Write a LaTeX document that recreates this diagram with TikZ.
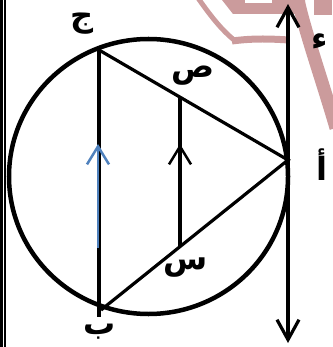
\documentclass[tikz,border=0pt]{standalone}
\usepackage{fontspec}
\newfontfamily\arabicfont[Script=Arabic]{DejaVu Sans}
\TeXXeTstate=1
\usetikzlibrary{arrows.meta}
\definecolor{wmpink}{RGB}{203,155,156}
\definecolor{chordblue}{RGB}{79,129,189}

\begin{document}
\begin{tikzpicture}[
        x=1pt, y=-1pt,
        rim/.style={line width=4.5pt},
        chord/.style={line width=3.2pt},
        lbl/.style={font=\arabicfont\bfseries\fontsize{32}{32}\selectfont, inner sep=0pt},
        barb/.style={-{Straight Barb[length=18pt, width=22pt]}, line width=2.5pt},
        wm/.style={draw=none, fill=wmpink}
    ]
    \useasboundingbox (0,0) rectangle (332,347);

    % watermark
    \fill[wm] (222,0) -- (233,14) -- (305,14) -- (305,0) -- cycle;
    \fill[wm] (314,0) rectangle (332,15);
    \draw[wmpink, line width=13pt] (298,0) .. controls (306,35) and (322,80) .. (336,128);
    \draw[wmpink, line width=5pt] (198,-2) .. controls (212,18) and (222,30) .. (234,40);
    \draw[wmpink, line width=7pt] (232,41) .. controls (255,38) and (272,39) .. (289,40);
    \fill[white] (245,0) rectangle (272,3);

    % frame
    \fill (0,0) rectangle (2.7,347);
    \fill (3.7,0) rectangle (5.7,347);

    % Points
    \coordinate (a) at (288,160);
    \coordinate (b) at (101,310);
    \coordinate (c) at (99,50);
    \coordinate (bb) at (99,317);
    \coordinate (x) at (180,97);
    \coordinate (y) at (180,247);
    \coordinate (m) at (180,144);
    \coordinate (d) at (288,4);
    \coordinate (e) at (288,343);
    \coordinate (o) at (148.5,176.5);

    % Circle and lines
    \draw[rim] (o) ellipse [x radius=139.5, y radius=137.5];
    \draw[chord] (c) -- (a) -- (b);
    \draw[chord] (c) -- (bb);
    \draw[chord] (x) -- (y);
    \draw[barb] (y) -- (m);
    \draw[barb, draw=chordblue] (98,248) -- (98,144);
    \draw[line width=3.2pt, {Straight Barb[length=20pt, width=22pt]}-{Straight Barb[length=20pt, width=22pt]}] (d) -- (e);

    % Labels
    \node[lbl] (lc) at (82,24) {\beginR ج\endR};
    \node[lbl] (lx) at (193,76) {\beginR ص\endR};
    \node[lbl] (ly) at (186,268) {\beginR س\endR};
    \node[lbl] (lb) at (100,332) {\beginR ب\endR};
    \node[lbl] (ld) at (320,42) {\beginR ء\endR};
    \node[lbl] (la) at (322,165) {\beginR أ\endR};
\end{tikzpicture}
\end{document}
